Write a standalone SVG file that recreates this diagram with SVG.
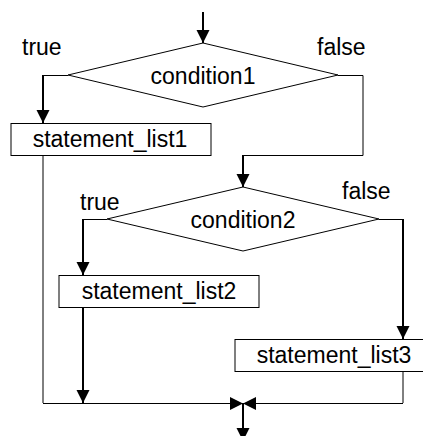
<svg xmlns="http://www.w3.org/2000/svg" width="423" height="436" viewBox="0 0 423 436">
<style>
text{font-family:"Liberation Sans",Arial,sans-serif;font-size:23px;fill:#000}
.lbl{text-anchor:middle}
.shape{fill:#fff;stroke:#000;stroke-width:1}
.thin{fill:none;stroke:#000;stroke-width:1}
.arr{fill:none;stroke:#000;stroke-width:2;marker-end:url(#ah)}
.arr1{fill:none;stroke:#000;stroke-width:1;marker-end:url(#ah)}
</style>
<defs>
<marker id="ah" markerUnits="userSpaceOnUse" markerWidth="14" markerHeight="14" refX="13" refY="6.5" orient="auto">
<path d="M0,0 L13,6.5 L0,13 z" fill="#000"/>
</marker>
</defs>
<rect width="423" height="436" fill="#fff"/>
<g id="connectors">
<path class="arr" d="M203,12 V43"/>
<path class="thin" d="M68,75.5 H43"/>
<path class="arr" d="M43,75 V123"/>
<path class="thin" d="M338,75.5 H363 V155.5 H243"/>
<path class="arr" d="M243,155 V187"/>
<path class="thin" d="M107,219.5 H83"/>
<path class="arr" d="M83,219 V275"/>
<path class="thin" d="M379,219.5 H403"/>
<path class="arr" d="M403,219 V339"/>
<path class="thin" d="M43,155 V403"/>
<path class="arr" d="M83,307 V403"/>
<path class="thin" d="M403,371 V403"/>
<path class="arr1" d="M43,403.5 H243"/>
<path class="arr1" d="M403,403.5 H243"/>
<path class="arr" d="M243,403 V441"/>
</g>
<g id="cond1">
<polygon class="shape" points="203,43 338,75 203,107 68,75"/>
<text class="lbl" x="203" y="84">condition1</text>
</g>
<g id="true1"><text x="22" y="55">true</text></g>
<g id="false1"><text x="317" y="55">false</text></g>
<g id="stmt1">
<rect class="shape" x="11" y="123.5" width="200" height="32"/>
<text class="lbl" x="110" y="147">statement_list1</text>
</g>
<g id="cond2">
<polygon class="shape" points="243,187 379,219 243,251 107,219"/>
<text class="lbl" x="243" y="228">condition2</text>
</g>
<g id="true2"><text x="80" y="210">true</text></g>
<g id="false2"><text x="342" y="199">false</text></g>
<g id="stmt2">
<rect class="shape" x="59" y="275.5" width="200" height="32"/>
<text class="lbl" x="159" y="299">statement_list2</text>
</g>
<g id="stmt3">
<rect class="shape" x="235" y="339.5" width="200" height="32"/>
<text class="lbl" x="334" y="363">statement_list3</text>
</g>
</svg>
